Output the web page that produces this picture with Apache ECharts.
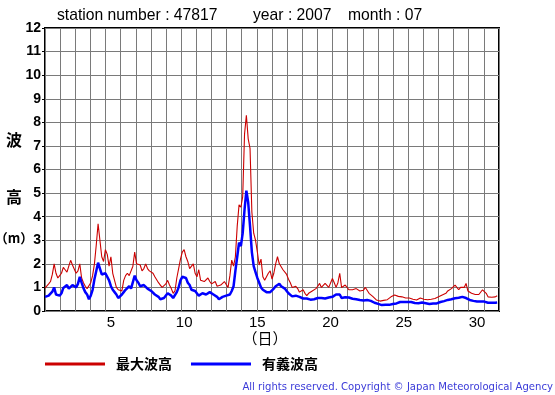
<!DOCTYPE html>
<html><head><meta charset="utf-8">
<script src="https://cdn.jsdelivr.net/npm/echarts@6/dist/echarts.min.js"></script>
<style>html,body{margin:0;padding:0;background:#fff}#c{width:555px;height:395px}</style>
</head><body><div id="c"></div><script>
// 3-hourly samples, 8 per day, July 1..31
const maxWave = [
 0.97,1.0,1.15,1.25,1.55,2.0,1.6,1.4,
 1.5,1.6,1.85,1.75,1.65,1.9,2.15,1.95,
 1.9,1.6,1.7,2.0,1.4,1.2,1.05,0.95,
 0.9,1.2,1.5,2.0,2.8,3.7,3.0,2.3,
 2.1,2.6,2.4,1.9,2.3,1.6,1.3,1.0,
 0.9,0.85,0.85,1.3,1.5,1.6,1.5,1.55,
 1.9,2.5,2.0,2.0,1.95,1.7,1.8,2.0,
 1.8,1.7,1.65,1.6,1.45,1.4,1.2,1.1,
 1.0,0.95,1.15,1.3,1.1,0.95,0.75,0.85,
 1.4,1.8,2.2,2.5,2.6,2.3,2.1,1.8,
 1.8,2.0,1.6,1.45,1.75,1.3,1.25,1.25,
 1.3,1.4,1.25,1.15,1.2,1.25,1.05,1.1,
 1.1,1.15,1.25,1.2,1.0,1.5,2.16,1.9,
 2.3,3.6,4.5,4.4,4.85,7.5,8.3,7.3,
 6.9,4.2,3.3,3.0,2.5,1.95,2.2,1.45,
 1.3,1.25,1.6,1.7,1.35,1.6,2.0,2.3,
 2.0,1.95,1.75,1.7,1.55,1.35,1.2,1.0,
 0.95,1.05,0.95,0.8,0.85,0.9,0.75,0.65,
 0.75,0.7,0.85,0.9,0.95,1.05,1.17,1.0,
 1.05,1.17,1.15,1.0,1.05,1.38,1.2,1.0,
 1.2,1.6,1.0,0.95,1.1,1.05,0.9,0.85,
 0.9,0.95,0.95,0.9,0.85,0.9,0.88,1.0,
 1.05,0.75,0.7,0.62,0.55,0.47,0.45,0.42,
 0.4,0.45,0.5,0.48,0.55,0.6,0.62,0.68,
 0.68,0.62,0.55,0.6,0.62,0.55,0.6,0.55,
 0.55,0.5,0.55,0.47,0.5,0.55,0.53,0.5,
 0.5,0.48,0.47,0.5,0.52,0.53,0.55,0.6,
 0.65,0.68,0.7,0.75,0.85,0.9,0.95,1.0,
 1.1,1.05,0.9,1.0,1.05,1.0,1.17,0.85,
 0.8,0.75,0.8,0.7,0.65,0.7,0.75,0.9,
 0.85,0.75,0.6,0.6,0.58,0.55,0.6,0.65
];
const sigWave = [
 0.6,0.62,0.65,0.72,0.82,1.0,0.7,0.62,
 0.65,0.75,0.98,1.05,1.1,0.95,0.9,1.1,
 1.15,1.0,1.15,1.45,1.2,0.97,0.8,0.7,
 0.5,0.65,0.9,1.35,1.7,2.05,1.8,1.55,
 1.5,1.6,1.65,1.3,1.05,0.9,0.8,0.7,
 0.55,0.47,0.7,0.8,0.9,0.9,1.05,0.95,
 1.0,1.5,1.3,1.2,1.05,1.0,1.1,1.05,
 0.95,0.9,0.85,0.8,0.7,0.65,0.6,0.5,
 0.47,0.55,0.6,0.75,0.7,0.65,0.55,0.5,
 0.8,1.0,1.3,1.45,1.5,1.4,1.2,1.1,
 0.9,0.95,0.85,0.8,0.65,0.65,0.75,0.7,
 0.7,0.75,0.8,0.75,0.7,0.68,0.6,0.5,
 0.5,0.6,0.68,0.65,0.6,0.7,0.85,1.05,
 1.7,2.3,2.9,2.75,3.3,4.3,5.1,4.6,
 3.6,2.5,1.9,1.65,1.4,1.2,1.0,0.9,
 0.85,0.8,0.85,0.8,0.85,0.95,1.05,1.1,
 1.15,1.05,1.0,0.95,0.85,0.75,0.7,0.62,
 0.62,0.65,0.62,0.6,0.55,0.53,0.55,0.53,
 0.5,0.48,0.47,0.5,0.52,0.55,0.53,0.55,
 0.55,0.53,0.55,0.57,0.55,0.6,0.65,0.7,
 0.78,0.7,0.55,0.55,0.58,0.6,0.57,0.55,
 0.52,0.52,0.5,0.48,0.47,0.43,0.45,0.43,
 0.47,0.45,0.43,0.38,0.35,0.32,0.3,0.27,
 0.25,0.25,0.26,0.25,0.26,0.3,0.3,0.32,
 0.32,0.35,0.38,0.38,0.38,0.37,0.38,0.38,
 0.38,0.36,0.34,0.32,0.33,0.35,0.36,0.35,
 0.33,0.3,0.3,0.32,0.32,0.33,0.32,0.35,
 0.38,0.4,0.42,0.45,0.47,0.48,0.5,0.52,
 0.54,0.55,0.56,0.58,0.6,0.6,0.55,0.5,
 0.47,0.45,0.43,0.42,0.4,0.4,0.4,0.4,
 0.4,0.38,0.35,0.33,0.35,0.35,0.35,0.36
];
const samplesPerDay = 8;
const dayTicks = [5, 10, 15, 20, 25, 30];
const seriesNames = ['最大波高', '有義波高'];
const titleParts = ['station number : 47817', 'year : 2007', 'month : 07'];

// x coordinate: day number centred on the day (day n spans n-0.5 .. n+0.5)
const toPairs = arr => arr.map((v, i) => [0.5 + i / samplesPerDay, v]);

const chart = echarts.init(document.getElementById('c'), null, {renderer: 'canvas'});
const latin = 'Liberation Sans, Arial, sans-serif';
const cjk = '"Noto Sans CJK JP", sans-serif';
chart.setOption({
  animation: false,
  backgroundColor: '#fff',
  grid: {left: 45, top: 28, width: 454, height: 283, show: true, borderColor: '#000', borderWidth: 2, backgroundColor: 'transparent', containLabel: false},
  xAxis: [
    {type: 'value', min: 0.5, max: 31.5, interval: 0.5, position: 'bottom',
     axisLine: {show: false}, axisTick: {show: false}, splitLine: {show: false},
     axisLabel: {fontSize: 15, color: '#000', margin: 4, fontFamily: latin,
       formatter: v => dayTicks.indexOf(v) >= 0 ? String(v) : ''}},
    {type: 'value', min: 0, max: 30, interval: 1, position: 'bottom',
     axisLine: {show: false}, axisTick: {show: false}, axisLabel: {show: false},
     splitLine: {show: true, lineStyle: {color: '#7a7a7a', width: 1}}}
  ],
  yAxis: {type: 'value', min: 0, max: 12, interval: 1,
    axisLine: {show: false},
    axisTick: {show: true, length: 3, lineStyle: {color: '#000'}},
    axisLabel: {fontSize: 14, fontWeight: 'bold', color: '#000', margin: 4, fontFamily: latin},
    splitLine: {show: true, lineStyle: {color: '#7a7a7a', width: 1}}},
  legend: {left: 45, top: 357, padding: 0, itemWidth: 60, itemHeight: 3, icon: 'rect', itemGap: 19,
    textStyle: {fontSize: 14, fontWeight: 'bold', color: '#000', fontFamily: cjk, padding: [0, 0, 0, 6]},
    data: seriesNames},
  series: [
    {name: seriesNames[0], type: 'line', xAxisIndex: 0, data: toPairs(maxWave), showSymbol: false,
     lineStyle: {color: '#cc0000', width: 1.1}, itemStyle: {color: '#cc0000'}, z: 3},
    {name: seriesNames[1], type: 'line', xAxisIndex: 0, data: toPairs(sigWave), showSymbol: false,
     lineStyle: {color: '#0000ff', width: 2.5}, itemStyle: {color: '#0000ff'}, z: 4}
  ],
  graphic: [
    {type: 'text', x: 57, y: 16, style: {text: titleParts[0], fontSize: 15.7, fontFamily: latin, fill: '#000', verticalAlign: 'middle'}},
    {type: 'text', x: 253, y: 16, style: {text: titleParts[1], fontSize: 15.7, fontFamily: latin, fill: '#000', verticalAlign: 'middle'}},
    {type: 'text', x: 348, y: 16, style: {text: titleParts[2], fontSize: 15.7, fontFamily: latin, fill: '#000', verticalAlign: 'middle'}},
    {type: 'text', x: 14, y: 140, style: {text: '波', fontSize: 16, fontWeight: 'bold', fontFamily: cjk, fill: '#000', align: 'center', verticalAlign: 'middle'}},
    {type: 'text', x: 14, y: 197, style: {text: '高', fontSize: 16, fontWeight: 'bold', fontFamily: cjk, fill: '#000', align: 'center', verticalAlign: 'middle'}},
    {type: 'text', x: 14, y: 238, style: {text: '（m）', fontSize: 13, fontWeight: 'bold', fontFamily: cjk, fill: '#000', align: 'center', verticalAlign: 'middle'}},
    {type: 'text', x: 265, y: 338, style: {text: '（日）', fontSize: 15, fontFamily: cjk, fill: '#000', align: 'center', verticalAlign: 'middle'}},
    {type: 'text', x: 553, y: 387, style: {text: 'All rights reserved. Copyright © Japan Meteorological Agency', fontSize: 10.1, fontFamily: '"DejaVu Sans", sans-serif', fill: '#3a3ad8', align: 'right', verticalAlign: 'middle'}}
  ]
});
</script></body></html>
